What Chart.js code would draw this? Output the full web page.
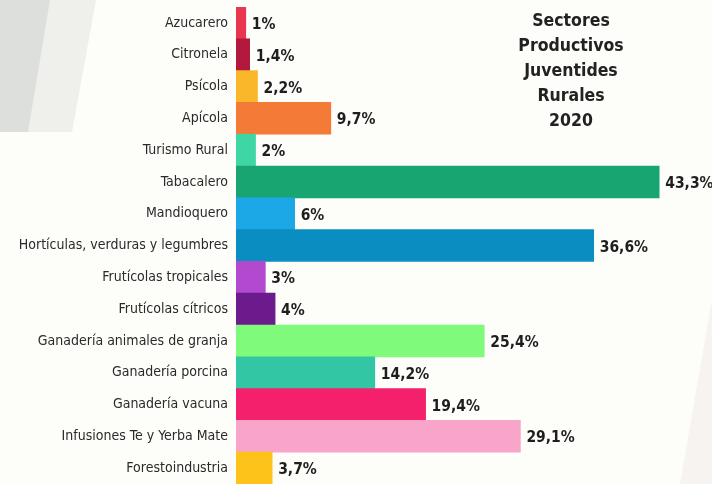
<!DOCTYPE html>
<html>
<head>
<meta charset="utf-8">
<script src="https://cdn.jsdelivr.net/npm/chart.js@4.4.1/dist/chart.umd.min.js"></script>
<style>
html,body{margin:0;padding:0;background:#fdfdfb;}
#wrap{width:712px;height:484px;position:relative;}
</style>
</head>
<body>
<div id="wrap"><canvas id="c" width="712" height="484"></canvas></div>
<script>
const categories = [
  "Azucarero","Citronela","Psícola","Apícola","Turismo Rural","Tabacalero","Mandioquero",
  "Hortículas, verduras y legumbres","Frutícolas tropicales","Frutícolas cítricos",
  "Ganadería animales de granja","Ganadería porcina","Ganadería vacuna",
  "Infusiones Te y Yerba Mate","Forestoindustria"
];
const values = [1, 1.4, 2.2, 9.7, 2, 43.3, 6, 36.6, 3, 4, 25.4, 14.2, 19.4, 29.1, 3.7];
const barColors = [
  "#e8364f","#b3183f","#fbb72a","#f47a38","#3fd6a6","#18a572","#1ca8e6",
  "#0a8ec2","#b249cf","#6b1b8b","#7ffa7b","#32c6a4","#f5206c","#f9a4c9","#fec31a"
];
const titleLines = ["Sectores","Productivos","Juventides","Rurales","2020"];

const fmt = v => String(v).replace('.', ',') + '%';

const bgPlugin = {
  id: 'bg',
  beforeDraw(chart) {
    const ctx = chart.ctx;
    ctx.save();
    ctx.fillStyle = '#fdfdfa';
    ctx.fillRect(0, 0, chart.width, chart.height);
    ctx.fillStyle = '#efefec';
    ctx.beginPath();
    ctx.moveTo(0, 0); ctx.lineTo(96, 0); ctx.lineTo(72, 132); ctx.lineTo(0, 132); ctx.closePath();
    ctx.fill();
    ctx.fillStyle = '#dcdfdb';
    ctx.beginPath();
    ctx.moveTo(0, 0); ctx.lineTo(50, 0); ctx.lineTo(28, 132); ctx.lineTo(0, 132); ctx.closePath();
    ctx.fill();
    ctx.fillStyle = '#f6f3f1';
    ctx.beginPath();
    ctx.moveTo(712, 300); ctx.lineTo(712, 484); ctx.lineTo(680, 484); ctx.closePath();
    ctx.fill();
    ctx.restore();
  }
};

const labelPlugin = {
  id: 'vlabels',
  afterDatasetsDraw(chart) {
    const ctx = chart.ctx;
    const meta = chart.getDatasetMeta(0);
    ctx.save();
    ctx.font = 'bold 15.5px "DejaVu Sans Condensed", "DejaVu Sans", sans-serif';
    ctx.fillStyle = '#1e1e1e';
    ctx.textAlign = 'left';
    ctx.textBaseline = 'middle';
    meta.data.forEach((bar, i) => {
      ctx.fillText(fmt(values[i]), bar.x + 6, bar.y + 2);
    });
    // title
    ctx.font = 'bold 17.5px "DejaVu Sans Condensed", "DejaVu Sans", sans-serif';
    ctx.textAlign = 'center';
    ctx.fillStyle = '#222';
    titleLines.forEach((t, i) => {
      ctx.fillText(t, 571, 21 + i * 25);
    });
    ctx.restore();
  }
};

new Chart(document.getElementById('c'), {
  type: 'bar',
  data: {
    labels: categories,
    datasets: [{
      data: values,
      backgroundColor: barColors,
      borderWidth: 0,
      barPercentage: 1,
      categoryPercentage: 1
    }]
  },
  options: {
    indexAxis: 'y',
    responsive: false,
    animation: false,
    devicePixelRatio: 1,
    layout: { padding: { top: 7, bottom: 0, left: 0, right: 2 } },
    plugins: { legend: { display: false }, tooltip: { enabled: false } },
    scales: {
      x: {
        display: false,
        min: 0,
        max: 48.5
      },
      y: {
        grid: { display: false, drawTicks: false },
        border: { display: false },
        ticks: {
          padding: 8,
          color: '#2a2a2a',
          font: { family: '"DejaVu Sans Condensed", "DejaVu Sans", sans-serif', size: 14 }
        },
        afterFit(scale) {
          scale.width = 236;
          scale.paddingTop = 0;
          scale.paddingBottom = 0;
        }
      }
    }
  },
  plugins: [bgPlugin, labelPlugin]
});
</script>
</body>
</html>
